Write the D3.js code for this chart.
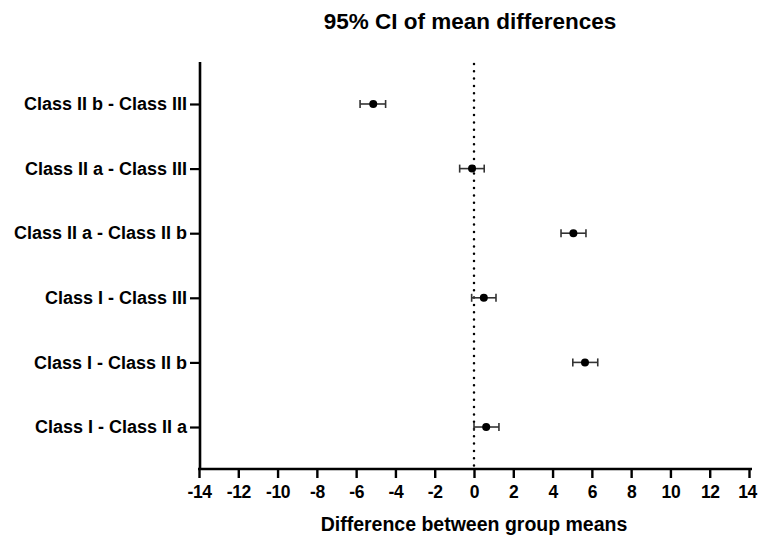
<!DOCTYPE html>
<html>
<head>
<meta charset="utf-8">
<script src="https://cdn.jsdelivr.net/npm/d3@7"></script>
<style>
  body { margin: 0; background: #fff; }
  text { font-family: "Liberation Sans", Arial, sans-serif; font-weight: bold; fill: #000; }
</style>
</head>
<body>
<svg id="chart" width="758" height="535"></svg>
<script>
// comparaisons (de haut en bas)
const comparisons = [
  "Class II b - Class III",
  "Class II a - Class III",
  "Class II a - Class II b",
  "Class I - Class III",
  "Class I - Class II b",
  "Class I - Class II a"
];
const meanDiff = [-5.13, -0.1, 5.06, 0.5, 5.65, 0.62];
const ciLow = [-5.8, -0.73, 4.43, -0.12, 5.03, 0.0];
const ciHigh = [-4.5, 0.52, 5.7, 1.12, 6.3, 1.27];
const xTicks = [-14, -12, -10, -8, -6, -4, -2, 0, 2, 4, 6, 8, 10, 12, 14];

const svg = d3.select("#chart");
const pLeft = 199, pRight = 749, pTop = 62, pBottom = 469;
const fontFam = "Liberation Sans, Arial, sans-serif";

const x = d3.scaleLinear().domain([-14, 14]).range([pLeft, pRight]);
const y = d3.scalePoint().domain(comparisons).range([pTop, pBottom]).padding(0.65);

// titre
svg.append("text")
  .attr("x", 470).attr("y", 29)
  .attr("text-anchor", "middle")
  .style("font-size", "22.5px")
  .text("95% CI of mean differences");

// ligne zéro pointillée
svg.append("line")
  .attr("x1", x(0)).attr("x2", x(0))
  .attr("y1", pTop + 2).attr("y2", pBottom)
  .attr("stroke", "#000")
  .attr("stroke-width", 2.5)
  .attr("stroke-linecap", "round")
  .attr("stroke-dasharray", "0,7.3");

// axe x (trait d'union simple pour les négatifs)
const gx = svg.append("g")
  .attr("transform", `translate(0,${pBottom})`)
  .call(d3.axisBottom(x).tickValues(xTicks).tickFormat(d => String(d))
    .tickSize(9).tickPadding(8).tickSizeOuter(0));
gx.select(".domain").attr("stroke-width", 2.6).attr("d", `M${pLeft - 1},0H${pRight + 3}`);
gx.selectAll(".tick line").attr("stroke-width", 2.4);
gx.selectAll(".tick text")
  .style("font-size", "17.5px").style("font-family", fontFam).style("font-weight", "bold")
  .style("letter-spacing", "-0.4px")
  .attr("dx", d => d === 14 ? -2 : 0);

// axe y
const gy = svg.append("g")
  .attr("transform", `translate(${pLeft + 1},0)`)
  .call(d3.axisLeft(y).tickSize(10).tickPadding(3).tickSizeOuter(0));
gy.select(".domain").attr("stroke-width", 2.6).attr("d", `M0,${pTop}V${pBottom}`);
gy.selectAll(".tick line").attr("stroke-width", 2.2);
gy.selectAll(".tick text").style("font-size", "18px").style("font-family", fontFam).style("font-weight", "bold");

// barres d'erreur + points
const rows = comparisons.map((c, i) => ({ c, m: meanDiff[i], lo: ciLow[i], hi: ciHigh[i] }));
const g = svg.append("g");
const bars = g.selectAll("g.bar").data(rows).join("g").attr("class", "bar");
bars.append("line")
  .attr("x1", d => x(d.lo)).attr("x2", d => x(d.hi))
  .attr("y1", d => y(d.c)).attr("y2", d => y(d.c))
  .attr("stroke", "#333").attr("stroke-width", 1.6);
["lo", "hi"].forEach(k => {
  bars.append("line")
    .attr("x1", d => x(d[k])).attr("x2", d => x(d[k]))
    .attr("y1", d => y(d.c) - 4).attr("y2", d => y(d.c) + 4)
    .attr("stroke", "#333").attr("stroke-width", 1.6);
});
bars.append("circle")
  .attr("cx", d => x(d.m)).attr("cy", d => y(d.c))
  .attr("r", 4).attr("fill", "#000");

// titre axe x
svg.append("text")
  .attr("x", 474).attr("y", 531)
  .attr("text-anchor", "middle")
  .style("font-size", "19.5px")
  .text("Difference between group means");
</script>
</body>
</html>
